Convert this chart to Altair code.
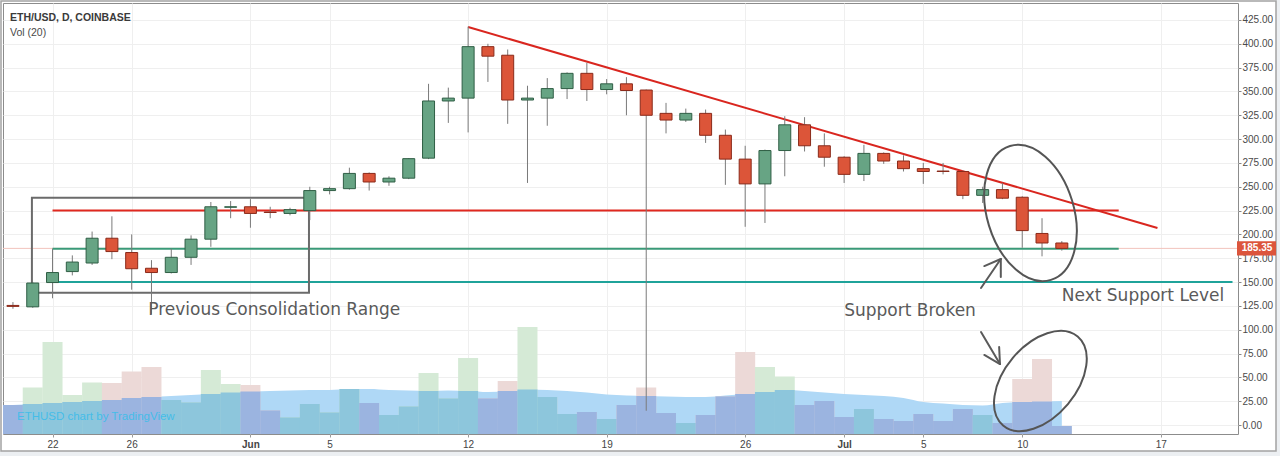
import altair as alt
import pandas as pd

# ---------------- data ----------------
dates = pd.date_range("2017-05-20", "2017-07-12", freq="D").strftime("%Y-%m-%dT00:00:00").tolist()

opens = [125.5, 124, 149.5, 161, 170, 196, 181, 164.5, 160, 176, 195, 228.5,
         229, 223.5, 222, 225, 246, 248, 264, 255, 259, 280, 340, 343, 397, 388,
         341, 343, 353, 369, 352, 358, 351.5, 327, 320, 327, 304, 279, 253, 288,
         315, 293, 281, 263, 285, 277, 269, 266.5, 266, 241, 247, 239, 201, 191]
highs = [129, 150, 185, 178, 203, 219, 200, 173, 185, 199, 234, 235,
         237, 229, 228, 250, 250, 270, 265, 261, 280, 358, 354, 418, 400, 394,
         356, 364, 370, 380, 363, 365, 352, 338, 332, 331, 310, 293, 289, 324,
         323, 306, 282, 294, 286, 283, 275, 275, 267, 250, 254, 240, 217, 193]
lows = [122, 123, 133, 157, 168, 174, 142, 116, 159, 168, 187, 217,
        207, 217, 220, 215, 242, 247, 246, 251, 258, 279, 317, 307, 360, 316,
        254, 314, 342, 340, 347, 325, 15, 306, 318, 296, 252, 208, 212, 261,
        287, 271, 254, 256, 274, 266, 253, 263, 237, 233, 237, 186, 177, 183]
closes = [124.5, 149, 160, 171, 196, 182, 164, 160, 176, 195, 229, 229,
          222, 223, 226, 246, 248, 264, 255, 259, 279.5, 340, 343, 397, 387, 341,
          343, 353, 369, 352, 358, 351, 325, 320, 327, 304, 279, 253, 288, 315,
          293, 281, 263, 285, 277, 269, 266, 266, 241, 247, 238, 204, 191, 185.35]
# volume (arbitrary units, K) and its 20-day average
volumes = [29, 46.6, 92, 39, 51.6, 51, 62.6, 67, 34, 31.6, 64, 50,
           49, 23.6, 16.6, 30, 21.6, 45, 31, 19, 27.6, 61, 35.6, 76, 35.6, 53,
           107, 37, 20, 22, 15, 29, 46.6, 21, 11, 19, 37.6, 82, 67, 57.6,
           29, 33, 17, 25, 15, 13, 20, 13, 25, 19, 11, 55, 75, 8]
vol_ma = [29, 30, 31, 32, 33, 34, 36, 37, 38, 39, 40, 41.5,
          42.5, 43, 43.5, 44, 44, 45, 45, 44, 43.5, 43, 43.5, 43, 42, 43,
          44.5, 44, 43, 41.5, 39.5, 38.5, 38, 37.5, 37, 37, 38.5, 40, 42, 44,
          43, 41.5, 40, 39, 38, 36, 32, 30.5, 29, 28.5, 31, 32, 32.5, 33]

tick_days = [(5, 22), (5, 26), (6, 1), (6, 5), (6, 12), (6, 19), (6, 26),
             (7, 1), (7, 5), (7, 10), (7, 17)]
price_ticks = list(range(0, 426, 25))
last_price = [185.35]

# drawn horizontal levels
hl_start = ["2017-05-22T00:00:00", "2017-05-22T00:00:00", "2017-05-22T00:00:00"]
hl_end = ["2017-07-14T21:00:00", "2017-07-14T21:00:00", "2017-07-20T15:00:00"]
hl_level = [225, 185, 150]
hl_color = ["#e0281f", "#3a9a78", "#1fa39a"]

# trend line
tl_x1, tl_y1, tl_x2, tl_y2 = ["2017-06-12T00:00:00"], [417.6], ["2017-07-16T20:00:00"], [206.7]

# consolidation box
box_x1, box_x2, box_y1, box_y2 = ["2017-05-20T23:00:00"], ["2017-06-03T23:00:00"], [138.8], [238.5]

# arrows (segments)
ar_x1 = ["2017-07-07T22:00:00", "2017-07-08T22:00:00", "2017-07-08T22:00:00",
         "2017-07-07T22:00:00", "2017-07-08T21:00:00", "2017-07-08T21:00:00"]
ar_y1 = [143.8, 174.2, 174.2, 97.6, 64.0, 64.0]
ar_x2 = ["2017-07-08T22:00:00", "2017-07-08T02:00:00", "2017-07-08T22:00:00",
         "2017-07-08T21:00:00", "2017-07-08T02:00:00", "2017-07-08T20:00:00"]
ar_y2 = [174.2, 166.8, 155.3, 64.0, 73.5, 81.8]

# ellipses
el_x = ["2017-07-10T10:00:00", "2017-07-10T22:00:00"]
el_y = [222.5, 46.2]
el_size = [19600, 13456]
el_angle = [343, 40]

# annotation texts
ann_text = ["Previous Consolidation Range", "Support Broken", "Next Support Level"]
ann_x = ["2017-05-26T20:00:00", "2017-07-01T00:00:00", "2017-07-12T00:00:00"]
ann_y = [115.4, 114.9, 130.1]

# ---------------- scales ----------------
Y_MIN, Y_MAX = -9.4, 442.8
VOL_K = (Y_MAX - Y_MIN) / 431.0   # volume pane shares the price pane's height

# ---------------- tables ----------------
cdf = pd.DataFrame({"date": dates, "open": opens, "high": highs, "low": lows,
                    "close": closes, "vol": volumes, "vol_ma": vol_ma})
up = [c >= o for o, c in zip(opens, closes)]
cdf["fill"] = ["#67a484" if u else "#dc5539" for u in up]
cdf["edge"] = ["#2f5e45" if u else "#8a2a1a" for u in up]
cdf["vfill"] = ["#d5ead6" if u else "#ecd9d7" for u in up]
cdf["vin"] = ["#8dc6dc" if u else "#9bb4e0" for u in up]
cdf["vtop"] = [Y_MIN + v * VOL_K for v in volumes]
cdf["vmid"] = [Y_MIN + min(v, m) * VOL_K for v, m in zip(volumes, vol_ma)]
cdf["vma"] = [Y_MIN + m * VOL_K for m in vol_ma]
cdf["base"] = Y_MIN

hdf = pd.DataFrame({"x1": hl_start, "x2": hl_end, "y": hl_level, "col": hl_color})
tdf = pd.DataFrame({"x1": tl_x1, "y1": tl_y1, "x2": tl_x2, "y2": tl_y2})
bdf = pd.DataFrame({"x1": box_x1, "x2": box_x2, "y1": box_y1, "y2": box_y2})
adf = pd.DataFrame({"x1": ar_x1, "y1": ar_y1, "x2": ar_x2, "y2": ar_y2})
edf = pd.DataFrame({"x": el_x, "y": el_y})
tx = pd.DataFrame({"text": ann_text, "x": ann_x, "y": ann_y})
lp = pd.DataFrame({"y": last_price, "label": ["185.35"]})
one = pd.DataFrame({"k": [0]})

X_SCALE = alt.Scale(domain=[alt.DateTime(year=2017, month=5, date=19, hours=18),
                            alt.DateTime(year=2017, month=7, date=20, hours=15, minutes=36)])
X_AXIS = alt.Axis(
    values=[alt.DateTime(year=2017, month=m, date=d) for m, d in tick_days],
    labelExpr="date(datum.value) == 1 ? timeFormat(datum.value, '%b') : timeFormat(datum.value, '%-d')",
    labelFontWeight={"condition": {"test": "date(datum.value) == 1", "value": "bold"}, "value": "normal"},
    title=None, grid=True, gridColor="#efefef", tickSize=3, tickColor="#9a9a9a",
    labelFontSize=10, labelColor="#444444", labelFont="Liberation Sans",
    domain=False, labelPadding=2, labelOverlap=False)
Y_SCALE = alt.Scale(domain=[Y_MIN, Y_MAX], nice=False, zero=False)
Y_AXIS = alt.Axis(orient="right", values=price_ticks, format=".2f", title=None, grid=True,
                  gridColor="#efefef", tickSize=3, tickColor="#888888", labelFontSize=10,
                  labelColor="#4a4a4a", labelFont="Liberation Sans", domain=False,
                  labelPadding=1, labelOverlap=False)


def xe(field):
    return alt.X(f"{field}:T", scale=X_SCALE, axis=X_AXIS)


def ye(field):
    return alt.Y(f"{field}:Q", scale=Y_SCALE, axis=Y_AXIS)


# ---------------- frame ----------------
strip_r = alt.Chart(one).mark_rect(color="#eceff2").encode(
    x=alt.value(1273), x2=alt.value(1280), y=alt.value(-4), y2=alt.value(456))
strip_b = alt.Chart(one).mark_rect(color="#eceff2").encode(
    x=alt.value(-4), x2=alt.value(1280), y=alt.value(448), y2=alt.value(456))
border = alt.Chart(one).mark_rect(fillOpacity=0, stroke="#a3a3a3", strokeWidth=1.5).encode(
    x=alt.value(-2), x2=alt.value(1273), y=alt.value(-2), y2=alt.value(448))

# ---------------- volume ----------------
vol_area = alt.Chart(cdf).mark_area(color="#afd8f6", interpolate="monotone").encode(
    x=xe("date"), y=ye("vma"), y2="base")
vol_bars = alt.Chart(cdf).mark_bar(size=20, clip=True).encode(
    x=xe("date"), y=ye("vtop"), y2="base", color=alt.Color("vfill:N", scale=None))
vol_inner = alt.Chart(cdf).mark_bar(size=20, clip=True).encode(
    x=xe("date"), y=ye("vmid"), y2="base", color=alt.Color("vin:N", scale=None))
water = alt.Chart(one).mark_text(text="ETHUSD chart by TradingView", align="left", baseline="middle",
                                 font="Liberation Sans", fontSize=11.5,
                                 color="#45bde8").encode(x=alt.value(14), y=alt.value(414))

# ---------------- price ----------------
last_line = alt.Chart(lp).mark_rule(color="#f2c3bc", strokeWidth=1).encode(y=ye("y"))
hlines = alt.Chart(hdf).mark_rule(strokeWidth=2).encode(
    x=xe("x1"), x2="x2", y=ye("y"), color=alt.Color("col:N", scale=None))
box = alt.Chart(bdf).mark_rect(fillOpacity=0, stroke="#6b6b6b", strokeWidth=2).encode(
    x=xe("x1"), x2="x2", y=ye("y1"), y2="y2")
trend = alt.Chart(tdf).mark_rule(color="#d9261f", strokeWidth=2).encode(
    x=xe("x1"), x2="x2", y=ye("y1"), y2="y2")
wicks = alt.Chart(cdf).mark_rule(color="#7a7a7a", strokeWidth=1).encode(
    x=xe("date"), y=ye("low"), y2="high")
bodies = alt.Chart(cdf).mark_bar(size=12, strokeWidth=1).encode(
    x=xe("date"), y=ye("open"), y2="close",
    color=alt.Color("fill:N", scale=None), stroke=alt.Stroke("edge:N", scale=None))

ELLIPSE = ("M 0 -1 C 0.3424 -1 0.62 -0.5523 0.62 0 C 0.62 0.5523 0.3424 1 0 1 "
           "C -0.3424 1 -0.62 0.5523 -0.62 0 C -0.62 -0.5523 -0.3424 -1 0 -1 Z")
ell1 = alt.Chart(edf.iloc[[0]]).mark_point(shape=ELLIPSE, size=el_size[0], angle=el_angle[0], filled=False,
                                            stroke="#555555", strokeWidth=2, opacity=1).encode(
    x=xe("x"), y=ye("y"))
ell2 = alt.Chart(edf.iloc[[1]]).mark_point(shape=ELLIPSE, size=el_size[1], angle=el_angle[1], filled=False,
                                            stroke="#555555", strokeWidth=2, opacity=1).encode(
    x=xe("x"), y=ye("y"))
arrows = alt.Chart(adf).mark_rule(color="#5a5a5a", strokeWidth=2, strokeCap="round").encode(
    x=xe("x1"), x2="x2", y=ye("y1"), y2="y2")
texts = alt.Chart(tx).mark_text(align="left", baseline="alphabetic", font="DejaVu Sans",
                                fontSize=17, color="#5a5a5a").encode(
    x=xe("x"), y=ye("y"), text="text:N")

title1 = alt.Chart(one).mark_text(text="ETH/USD, D, COINBASE", align="left", baseline="alphabetic",
                                  font="Liberation Sans", fontSize=10.5, fontWeight="bold",
                                  color="#3a3a3a").encode(x=alt.value(7), y=alt.value(18))
title2 = alt.Chart(one).mark_text(text="Vol (20)", align="left", baseline="alphabetic",
                                  font="Liberation Sans", fontSize=10.5,
                                  color="#4a4a4a").encode(x=alt.value(7), y=alt.value(33))

RECT = "M -1 -0.37 L 1 -0.37 L 1 0.37 L -1 0.37 Z"
price_box = alt.Chart(lp).mark_point(shape=RECT, size=1521, filled=True, color="#dc553c",
                                     opacity=1).encode(x=alt.value(1253.5), y=ye("y"))
price_txt = alt.Chart(lp).mark_text(font="Liberation Sans", fontSize=10, fontWeight="bold",
                                    color="white").encode(x=alt.value(1254), y=ye("y"), text="label:N")

chart = alt.layer(
    strip_r, strip_b, border,
    vol_area, vol_bars, vol_inner, water,
    last_line, hlines, box, trend, wicks, bodies, ell1, ell2, arrows, texts,
    title1, title2, price_box, price_txt,
).properties(
    width=1235, height=431,
    padding={"left": 3, "top": 3, "right": 42, "bottom": 22},
    autosize=alt.AutoSizeParams(type="none"),
    background="white",
).configure_view(stroke="#8c8c8c", strokeWidth=1)

chart.save("out.html", embed_options={"renderer": "svg", "actions": False})
